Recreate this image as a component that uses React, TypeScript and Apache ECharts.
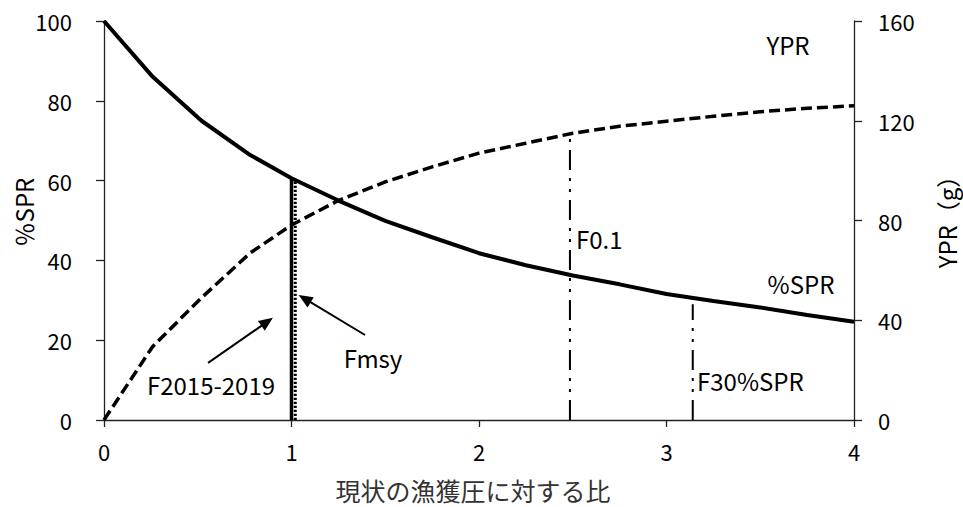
import React, { useEffect, useRef } from 'react';
import * as echarts from 'echarts';

// F multiplier (ratio to current fishing pressure)
const fValues = [0, 0.26, 0.52, 0.78, 1.0, 1.25, 1.5, 1.75, 2.0, 2.25, 2.5, 2.75, 3.0, 3.25, 3.5, 3.75, 4.0];
// %SPR (left axis)
const sprValues = [100, 86, 75, 66.4, 60.6, 55.0, 49.9, 45.8, 41.8, 38.8, 36.2, 34.0, 31.6, 29.8, 28.2, 26.3, 24.6];
// YPR in g (right axis)
const yprValues = [0, 29.5, 49, 67, 78.2, 88, 95.5, 101.5, 107, 111, 115, 117.8, 119.8, 121.8, 123.6, 125, 126];

// reference F values and the heights their lines reach
const refNames = ['F2015-2019', 'Fmsy', 'F0.1', 'F30%SPR'];
const refX = [1.0, 1.02, 2.485, 3.14];
const refTop = [60.6, 59.7, 115, 29];
const refAxis = [0, 0, 1, 0];

const xTicks = [0, 1, 2, 3, 4];

const FONT = '"Noto Sans CJK JP", "Noto Sans", sans-serif';

export default function App() {
  const ref = useRef<HTMLDivElement>(null);
  useEffect(() => {
    const chart = echarts.init(ref.current!, null, { renderer: 'svg' });
    const dashDot = [20, 8, 3, 8, 3, 8];
    const refStyles: any[] = [
      { width: 3.5, type: 'solid' },
      { width: 3, type: [2.2, 1.8] },
      { width: 2, type: dashDot },
      { width: 2, type: dashDot },
    ];
    const refSeries = refNames.map((n, i) => ({
      name: n,
      type: 'line',
      yAxisIndex: refAxis[i],
      showSymbol: false,
      symbol: 'none',
      silent: true,
      data: [[refX[i], 0], [refX[i], refTop[i]]],
      lineStyle: { color: '#000', ...refStyles[i] },
      z: 3,
    }));
    const txt = (text: string, x: number, y: number, align = 'center', size = 24, extra: any = {}, fill = '#000') => ({
      type: 'text',
      x,
      y,
      silent: true,
      ...extra,
      style: {
        text,
        fill,
        font: `${size}px ${FONT}`,
        lineHeight: size + 2,
        align,
        verticalAlign: 'middle',
      },
    });
    chart.setOption({
      animation: false,
      backgroundColor: '#fff',
      textStyle: { fontFamily: FONT },
      grid: { left: 104, right: 109, top: 21, bottom: 87, containLabel: false },
      xAxis: {
        type: 'value',
        min: 0,
        max: 4,
        interval: 1,
        axisLine: { show: true, lineStyle: { color: '#222', width: 1.3 } },
        axisTick: { show: true, inside: false, length: 7, lineStyle: { color: '#222', width: 1.3 } },
        axisLabel: {
          fontSize: 22,
          color: '#000',
          margin: 20,
          fontFamily: FONT,
          formatter: (v: number) => (xTicks.includes(v) ? String(v) : ''),
        },
        splitLine: { show: false },
      },
      yAxis: [
        {
          type: 'value',
          min: 0,
          max: 100,
          interval: 20,
          position: 'left',
          axisLine: { show: true, lineStyle: { color: '#222', width: 1.3 } },
          axisTick: { show: true, inside: false, length: 8, lineStyle: { color: '#222', width: 1.3 } },
          axisLabel: { fontSize: 22, color: '#000', margin: 32, fontFamily: FONT },
          splitLine: { show: false },
        },
        {
          type: 'value',
          min: 0,
          max: 160,
          interval: 40,
          position: 'right',
          axisLine: { show: true, lineStyle: { color: '#222', width: 1.3 } },
          axisTick: { show: true, inside: false, length: 8, lineStyle: { color: '#222', width: 1.3 } },
          axisLabel: { fontSize: 22, color: '#000', margin: 24, fontFamily: FONT },
          splitLine: { show: false },
        },
      ],
      series: [
        {
          name: '%SPR',
          type: 'line',
          yAxisIndex: 0,
          showSymbol: false,
          symbol: 'none',
          data: fValues.map((f, i) => [f, sprValues[i]]),
          lineStyle: { color: '#000', width: 4 },
          z: 4,
          markLine: {
            silent: true,
            symbol: ['none', 'triangle'],
            symbolSize: [12, 14],
            label: { show: false },
            lineStyle: { color: '#000', width: 2, type: 'solid' },
            data: [
              [{ coord: [0.555, 14.3] }, { coord: [0.87, 24.6] }],
              [{ coord: [1.392, 21.3] }, { coord: [1.07, 30.4] }],
            ],
          },
        },
        {
          name: 'YPR',
          type: 'line',
          yAxisIndex: 1,
          showSymbol: false,
          symbol: 'none',
          data: fValues.map((f, i) => [f, yprValues[i]]),
          lineStyle: { color: '#000', width: 3.5, type: [11, 5] },
          z: 4,
        },
        ...refSeries,
      ],
      graphic: [
        txt('YPR', 788, 44),
        txt('%SPR', 801, 283),
        txt('F0.1', 576, 238, 'left'),
        txt('F30%SPR', 697, 380, 'left'),
        txt('Fmsy', 373, 357),
        txt('F2015-2019', 211, 384),
        txt('％SPR', 23, 212, 'center', 24, { rotation: Math.PI / 2 }),
        txt('YPR（g）', 946, 216, 'center', 24, { rotation: Math.PI / 2 }),
        txt('現状の漁獲圧に対する比', 473, 490, 'center', 25, {}, '#333'),
      ],
    });
    return () => chart.dispose();
  }, []);
  return <div ref={ref} style={{ position: 'fixed', left: 0, top: 0, width: 963, height: 507 }} />;
}
